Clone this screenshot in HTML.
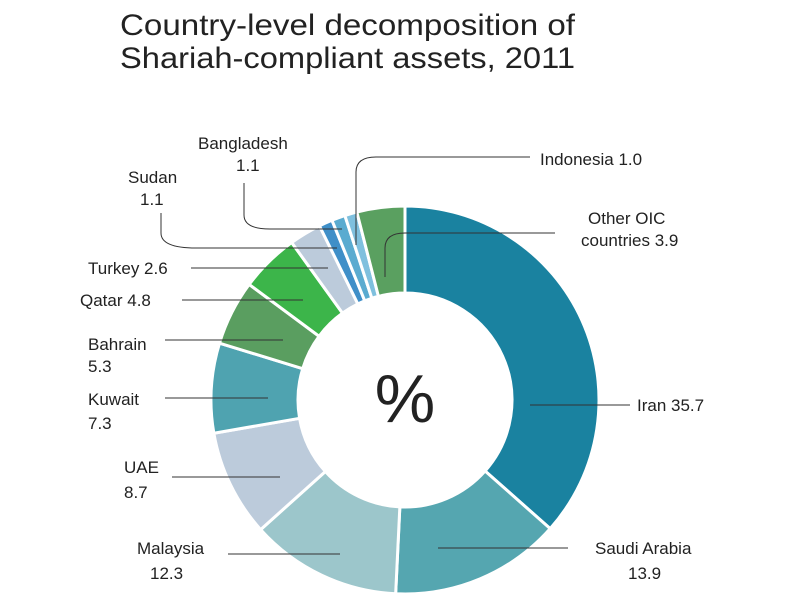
<!DOCTYPE html>
<html><head><meta charset="utf-8"><style>
html,body{margin:0;padding:0;background:#fff;}
svg text{font-family:"Liberation Sans","DejaVu Sans",sans-serif;fill:#222;}
</style></head><body>
<svg id="chart" width="800" height="600" viewBox="0 0 800 600" xmlns="http://www.w3.org/2000/svg">
<g>
<text x="120" y="35" font-size="30" textLength="455" lengthAdjust="spacingAndGlyphs">Country-level decomposition of</text>
<text x="120" y="68" font-size="30" textLength="455" lengthAdjust="spacingAndGlyphs">Shariah-compliant assets, 2011</text>
</g>
<g id="slices"></g>
<g id="leaders" fill="none" stroke="#333" stroke-width="1">
<path d="M530,405 H630"/>
<path d="M438,548 H568"/>
<path d="M228,554 H340"/>
<path d="M172,477 H280"/>
<path d="M165,398 H268"/>
<path d="M165,340 H283"/>
<path d="M182,300 H303"/>
<path d="M191,268 H328"/>
<path d="M161,213 V233 Q161,248 196,248 H337"/>
<path d="M244,183 V215 Q244,229 270,229 H342"/>
<path d="M356,245 V172 Q356,157 376,157 H530"/>
<path d="M385,277 V248 Q385,233 405,233 H555"/>
</g>
<g font-size="17">
<text x="637" y="411">Iran 35.7</text>
<text x="595" y="554">Saudi Arabia</text>
<text x="628" y="579">13.9</text>
<text x="137" y="554">Malaysia</text>
<text x="150" y="579">12.3</text>
<text x="124" y="473">UAE</text>
<text x="124" y="498">8.7</text>
<text x="88" y="405">Kuwait</text>
<text x="88" y="429">7.3</text>
<text x="88" y="350">Bahrain</text>
<text x="88" y="372">5.3</text>
<text x="80" y="306">Qatar 4.8</text>
<text x="88" y="274">Turkey 2.6</text>
<text x="128" y="183">Sudan</text>
<text x="140" y="205">1.1</text>
<text x="198" y="149">Bangladesh</text>
<text x="236" y="171">1.1</text>
<text x="540" y="165">Indonesia 1.0</text>
<text x="588" y="224">Other OIC</text>
<text x="581" y="246">countries 3.9</text>
</g>
<text x="405" y="422" font-size="68" text-anchor="middle">%</text>
<script>
const categories=["Iran","Saudi Arabia","Malaysia","UAE","Kuwait","Bahrain","Qatar","Turkey","Sudan","Bangladesh","Indonesia","Other OIC countries"];
const values=[35.7,13.9,12.3,8.7,7.3,5.3,4.8,2.6,1.1,1.1,1.0,3.9];
const colors=["#1a82a0","#55a6b0","#9cc6cb","#bccbdb","#4fa3b0","#5a9e60","#3cb54a","#bccbdb","#3f8fc8","#5aabd0","#7fc0de","#5aa060"];
const cx=405,cy=400,R=194,r=107;
const total=values.reduce((a,b)=>a+b,0);
const g=document.getElementById('slices');
let a0=0;
function pt(rad,a){return [cx+rad*Math.sin(a),cy-rad*Math.cos(a)];}
values.forEach((v,i)=>{
  const a1=a0+v/total*2*Math.PI;
  const large=(a1-a0)>Math.PI?1:0;
  const p1=pt(R,a0),p2=pt(R,a1),p3=pt(r,a1),p4=pt(r,a0);
  const p=document.createElementNS('http://www.w3.org/2000/svg','path');
  p.setAttribute('d',`M${p1[0]},${p1[1]} A${R},${R} 0 ${large} 1 ${p2[0]},${p2[1]} L${p3[0]},${p3[1]} A${r},${r} 0 ${large} 0 ${p4[0]},${p4[1]} Z`);
  p.setAttribute('fill',colors[i]);
  p.setAttribute('stroke','#fff');
  p.setAttribute('stroke-width','3');
  
  
  g.appendChild(p);
  a0=a1;
});
</script>
</svg>
</body></html>
